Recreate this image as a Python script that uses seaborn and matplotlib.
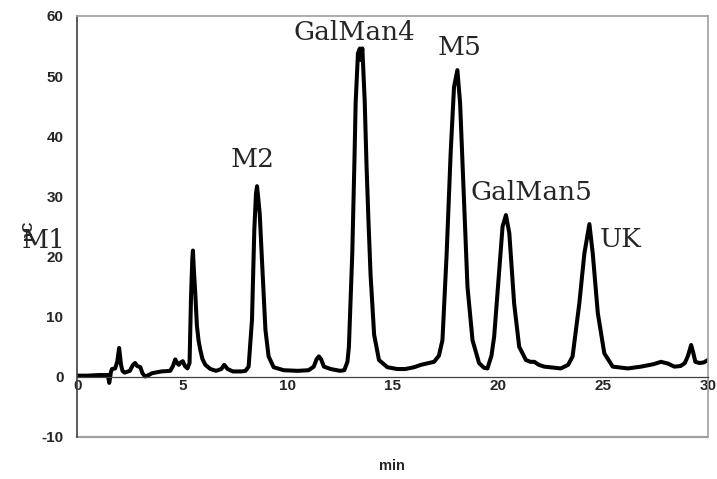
import matplotlib
matplotlib.use("Agg")
import matplotlib.pyplot as plt
import seaborn as sns
import pandas as pd

# Retention time (min) and detector signal (nC)
time_min = [0.0, 0.5, 1.0, 1.45, 1.52, 1.6, 1.65, 1.8, 1.9, 1.99, 2.08, 2.15, 2.25, 2.5,
            2.65, 2.75, 2.85, 3.0, 3.1, 3.23, 3.4, 3.55, 4.0, 4.42, 4.55, 4.66, 4.75, 4.83,
            4.92, 5.02, 5.12, 5.24, 5.34, 5.41, 5.47, 5.5, 5.55, 5.61, 5.69, 5.77, 5.85,
            5.95, 6.09, 6.33, 6.6, 6.85, 6.99, 7.15, 7.4, 7.8, 8.0, 8.15, 8.31, 8.42, 8.5,
            8.55, 8.6, 8.68, 8.79, 8.95, 9.1, 9.34, 9.82, 10.5, 11.0, 11.25, 11.38, 11.49,
            11.6, 11.73, 12.05, 12.5, 12.7, 12.85, 12.92, 13.08, 13.19, 13.24, 13.35, 13.44,
            13.49, 13.56, 13.67, 13.76, 13.85, 13.95, 14.12, 14.35, 14.75, 15.22, 15.6,
            16.02, 16.35, 16.97, 17.2, 17.37, 17.57, 17.76, 17.92, 18.08, 18.21, 18.37,
            18.56, 18.8, 19.11, 19.35, 19.51, 19.7, 19.83, 20.07, 20.23, 20.39, 20.55, 20.78,
            21.02, 21.34, 21.55, 21.74, 21.95, 22.21, 23.0, 23.35, 23.56, 23.88, 24.12,
            24.36, 24.52, 24.76, 25.07, 25.47, 26.19, 26.82, 27.4, 27.77, 28.1, 28.4, 28.7,
            28.9, 29.05, 29.2, 29.3, 29.4, 29.6, 29.8, 30.0]
signal_nc = [0.2, 0.2, 0.3, 0.3, -1.0, 0.8, 1.3, 1.4, 2.5, 4.8, 2.0, 1.0, 0.7, 1.0,
             2.0, 2.3, 1.8, 1.6, 0.6, 0.05, 0.3, 0.6, 0.9, 1.0, 1.8, 2.9, 2.3, 2.0,
             2.4, 2.6, 1.8, 1.4, 2.3, 13.3, 19.5, 21.0, 17.5, 14.0, 8.5, 6.0, 4.5,
             3.0, 2.0, 1.3, 1.0, 1.3, 2.0, 1.3, 0.9, 0.9, 1.0, 1.7, 9.5, 24.4, 30.5,
             31.7, 30.0, 27.0, 19.0, 7.8, 3.4, 1.6, 1.1, 1.0, 1.1, 1.7, 2.9, 3.4,
             2.9, 1.7, 1.3, 1.0, 1.1, 2.5, 5.0, 20.5, 37.0, 45.5, 53.8, 54.6,
             52.7, 54.6, 46.0, 35.0, 26.0, 17.0, 7.0, 2.8, 1.6, 1.3, 1.3,
             1.6, 2.0, 2.5, 3.5, 6.1, 20.5, 37.2, 48.2, 51.0, 45.5, 31.6,
             15.0, 6.1, 2.3, 1.5, 1.4, 3.5, 6.7, 17.8, 25.0, 26.9, 23.9, 12.2,
             5.0, 2.8, 2.5, 2.5, 2.0, 1.7, 1.4, 2.0, 3.4, 12.2, 20.5,
             25.4, 20.5, 10.6, 3.9, 1.7, 1.4, 1.7, 2.1, 2.5, 2.2, 1.7, 1.8,
             2.3, 3.5, 5.3, 4.0, 2.5, 2.3, 2.4, 2.8]

# Peak annotations: name, x (min), baseline y (nC)
peak_names = ["M1", "M2", "GalMan4", "M5", "GalMan5", "UK"]
peak_label_x = [-2.64, 7.28, 10.29, 17.15, 18.72, 24.83]
peak_label_y = [21.4, 34.9, 56.0, 53.5, 29.4, 21.6]

x_ticks = [0, 5, 10, 15, 20, 25, 30]
y_ticks = [-10, 0, 10, 20, 30, 40, 50, 60]
y_tick_labels = ["-10", "0", "10", "20", "30", "40", "50", "60"]

sns.set_theme(style="white")
plt.rcParams["font.family"] = ["Liberation Sans", "DejaVu Sans"]

fig = plt.figure(figsize=(7.17, 4.79), dpi=100)
ax = fig.add_axes([0.1078, 0.0877, 0.8796, 0.8789])

df = pd.DataFrame({"time": time_min, "signal": signal_nc})
sns.lineplot(data=df, x="time", y="signal", ax=ax, color="black", lw=2.9,
             estimator=None, sort=False)

ax.set_xlim(0, 30)
ax.set_ylim(-10, 60)

# Spines
ax.spines["bottom"].set_position(("data", 0))
ax.spines["bottom"].set_color("#404040")
ax.spines["bottom"].set_linewidth(0.9)
ax.spines["left"].set_color("#404040")
ax.spines["left"].set_linewidth(1.2)
for s in ["top", "right"]:
    ax.spines[s].set_color("#a0a0a0")
    ax.spines[s].set_linewidth(1.2)
ax.axhline(-10, color="#a0a0a0", lw=1.6, clip_on=False, zorder=0)

ax.set_xticks(x_ticks)
ax.set_yticks(y_ticks)
ax.set_yticklabels(y_tick_labels)
ax.tick_params(axis="x", direction="in", length=4, width=0.9, color="#404040",
               pad=1.5, labelsize=11)
ax.tick_params(axis="y", direction="in", length=5, width=1.0, color="#404040",
               pad=10, labelsize=11)
for lab in ax.get_xticklabels() + ax.get_yticklabels():
    lab.set_fontweight("bold")

ax.set_xlabel("")
ax.set_ylabel("")
fig.text(392 / 717, 1 - 466 / 479, "min", ha="center", va="center",
         fontsize=10.5, fontweight="bold")
fig.text(28 / 717, 1 - 230 / 479, "nC", ha="center", va="center",
         rotation=90, fontsize=10.5, fontweight="bold")

for name, lx, ly in zip(peak_names, peak_label_x, peak_label_y):
    ax.text(lx, ly, name, ha="left", va="baseline", fontsize=19,
            family="DejaVu Serif", clip_on=False)

fig.savefig("out.png", dpi=100)
